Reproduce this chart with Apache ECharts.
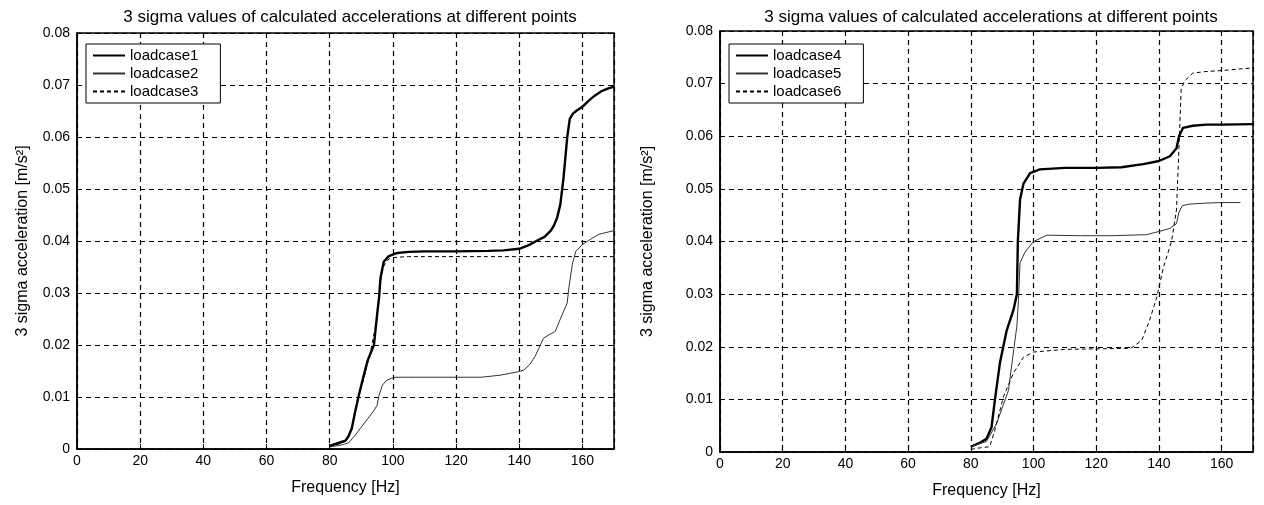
<!DOCTYPE html>
<html lang="en">
<head>
    <meta charset="UTF-8">
    <title>3 sigma</title>
    <script src="https://cdn.jsdelivr.net/npm/echarts@6/dist/echarts.min.js"></script>
</head>
<body style="margin:0;background:#fff;">
    <div id="main" style="width: 1264px;height:505px;"></div>
</body>
    <script type="text/javascript">
        // data (frequency in Hz, acceleration in m/s²)
        var titleText = '3 sigma values of calculated accelerations at different points';
        var xTicks = [0, 20, 40, 60, 80, 100, 120, 140, 160];
        var yTicks = ['0', '0.01', '0.02', '0.03', '0.04', '0.05', '0.06', '0.07', '0.08'];

        var freq1 = [80, 83, 85, 86, 87, 88, 89.2, 90.8, 92, 94, 95, 95.6, 96.1, 97.1, 98.7, 101.4, 105, 110, 120, 130, 135, 140, 143, 146, 148, 150, 151, 152, 153, 154, 154.6, 155.2, 156, 157, 158, 160, 162, 164, 166, 168, 170];
        var load1 = [0.0006, 0.0012, 0.0016, 0.0025, 0.004, 0.007, 0.0103, 0.0142, 0.017, 0.02, 0.0258, 0.029, 0.033, 0.036, 0.0371, 0.0377, 0.0379, 0.038, 0.038, 0.0381, 0.0382, 0.0385, 0.0392, 0.0402, 0.0408, 0.042, 0.043, 0.0445, 0.047, 0.052, 0.056, 0.06, 0.0635, 0.0645, 0.065, 0.0658, 0.067, 0.068, 0.0688, 0.0693, 0.0697];

        var freq2 = [80, 83, 85, 86, 88, 90, 92, 94, 95, 95.6, 96.7, 98, 99.5, 101, 105, 115, 125, 128, 134, 140, 141.5, 143.4, 145, 147.7, 149.5, 151.4, 153, 155.2, 155.7, 156.8, 157.9, 160, 163, 165.3, 170];
        var load2 = [0.0004, 0.0007, 0.001, 0.0012, 0.0026, 0.0042, 0.0058, 0.0074, 0.0084, 0.0103, 0.0123, 0.0132, 0.0136, 0.0138, 0.0138, 0.0138, 0.0138, 0.0138, 0.0142, 0.0149, 0.0152, 0.0163, 0.0178, 0.0213, 0.022, 0.0226, 0.025, 0.0281, 0.031, 0.0355, 0.038, 0.0393, 0.0405, 0.0413, 0.042];

        var freq3 = [80, 83, 85, 87, 89, 91, 93, 95, 96, 97, 98, 99, 100, 102, 105, 110, 130, 150, 170];
        var load3 = [0.0005, 0.001, 0.0015, 0.0038, 0.0098, 0.014, 0.019, 0.025, 0.032, 0.035, 0.0362, 0.0366, 0.0368, 0.0369, 0.037, 0.037, 0.037, 0.037, 0.037];

        var freq4 = [80, 83, 85, 86.6, 87.7, 89.3, 91.4, 93.6, 94.7, 95, 95.7, 96.8, 98.9, 102, 110, 120, 128, 135, 140, 143.5, 145.6, 146.4, 147.7, 150.8, 155, 160, 170];
        var load4 = [0.001, 0.0018, 0.0025, 0.0047, 0.01, 0.017, 0.023, 0.027, 0.03, 0.04, 0.048, 0.051, 0.053, 0.0537, 0.054, 0.054, 0.0541, 0.0547, 0.0553, 0.0562, 0.0577, 0.06, 0.0616, 0.062, 0.0622, 0.0622, 0.0623];

        var freq5 = [80, 85, 88.2, 92, 93.6, 94.7, 95.2, 95.7, 97.3, 100, 104.3, 115, 125, 136, 140, 143.5, 145.6, 146.4, 147.5, 149.6, 155, 160, 166];
        var load5 = [0.001, 0.002, 0.0054, 0.0117, 0.019, 0.024, 0.029, 0.036, 0.038, 0.04, 0.0412, 0.0411, 0.0411, 0.0413, 0.0419, 0.0425, 0.0434, 0.0456, 0.0468, 0.0471, 0.0473, 0.0474, 0.0474];

        var freq6 = [80, 83, 86, 87.6, 90.4, 93.6, 96.8, 100, 110, 120, 131, 134.5, 137, 139.3, 141.4, 144, 145.6, 146.2, 147.1, 148.2, 150.8, 155, 160.4, 170];
        var load6 = [0.0005, 0.0008, 0.001, 0.004, 0.0105, 0.015, 0.018, 0.019, 0.0195, 0.0196, 0.0197, 0.0212, 0.025, 0.0294, 0.035, 0.04, 0.046, 0.055, 0.069, 0.0705, 0.072, 0.0723, 0.0725, 0.073];

        function pairs(xs, ys) {
            var out = [];
            for (var i = 0; i < xs.length; i++) out.push([xs[i], ys[i]]);
            return out;
        }

        var font = 'Liberation Sans, Arial, sans-serif';
        var dash = [5, 4];

        function xAxisOf(idx) {
            return {
                gridIndex: idx, type: 'value', min: 0, max: 170, interval: 20,
                name: 'Frequency [Hz]', nameLocation: 'middle', nameGap: 31,
                nameTextStyle: {color: '#000', fontSize: 16, fontFamily: font},
                axisLine: {show: true, lineStyle: {color: '#000', width: 1.5}},
                axisTick: {show: true, inside: true, length: 5, lineStyle: {color: '#000'}},
                axisLabel: {color: '#000', fontSize: 14, fontFamily: font, margin: 5,
                    formatter: function (v) { return xTicks.indexOf(v) >= 0 ? String(v) : ''; }},
                splitLine: {show: true, lineStyle: {color: '#000', type: dash, width: 1.2}}
            };
        }
        function yAxisOf(idx, gap) {
            return {
                gridIndex: idx, type: 'value', min: 0, max: 0.08, interval: 0.01,
                name: '3 sigma acceleration [m/s²]', nameLocation: 'middle', nameGap: gap,
                nameTextStyle: {color: '#000', fontSize: 16, fontFamily: font},
                axisLine: {show: true, lineStyle: {color: '#000', width: 1.5}},
                axisTick: {show: true, inside: true, length: 5, lineStyle: {color: '#000'}},
                axisLabel: {color: '#000', fontSize: 14, fontFamily: font, margin: 7,
                    formatter: function (v) { return yTicks[Math.round(v * 100)]; }},
                splitLine: {show: true, lineStyle: {color: '#000', type: dash, width: 1.2}}
            };
        }
        function lineOf(name, data, idx, width, type, color) {
            return {
                name: name, type: 'line', xAxisIndex: idx, yAxisIndex: idx,
                data: data, symbol: 'none', animation: false,
                lineStyle: {color: color, width: width, type: type},
                itemStyle: {color: color}
            };
        }
        function legendOf(names, left) {
            return {
                data: names, orient: 'vertical', left: left, top: 44,
                itemWidth: 32, itemHeight: 12, itemGap: 3, itemTextGap: 10,
                padding: [4, 22, 4, 6],
                itemStyle: {opacity: 0},
                borderColor: '#000', borderWidth: 1, backgroundColor: '#fff',
                textStyle: {color: '#000', fontSize: 15, fontFamily: font, lineHeight: 14}
            };
        }

        var myChart = echarts.init(document.getElementById('main'));
        var option = {
            backgroundColor: '#fff',
            title: [
                {text: titleText, left: 345, top: 4, textAlign: 'center',
                    textStyle: {color: '#000', fontSize: 17, fontWeight: 'normal', fontFamily: font}},
                {text: titleText, left: 986, top: 4, textAlign: 'center',
                    textStyle: {color: '#000', fontSize: 17, fontWeight: 'normal', fontFamily: font}}
            ],
            grid: [
                {left: 77, right: 650, top: 33, bottom: 56, show: true, borderColor: '#000', borderWidth: 1.5},
                {left: 720, right: 11, top: 31, bottom: 53, show: true, borderColor: '#000', borderWidth: 1.5}
            ],
            xAxis: [xAxisOf(0), xAxisOf(1)],
            yAxis: [yAxisOf(0, 46), yAxisOf(1, 64)],
            legend: [
                legendOf(['loadcase1', 'loadcase2', 'loadcase3'], 86),
                legendOf(['loadcase4', 'loadcase5', 'loadcase6'], 729)
            ],
            series: [
                lineOf('loadcase1', pairs(freq1, load1), 0, 2.4, 'solid', '#000'),
                lineOf('loadcase2', pairs(freq2, load2), 0, 1, 'solid', '#333'),
                lineOf('loadcase3', pairs(freq3, load3), 0, 1, [4, 3], '#000'),
                lineOf('loadcase4', pairs(freq4, load4), 1, 2.4, 'solid', '#000'),
                lineOf('loadcase5', pairs(freq5, load5), 1, 1, 'solid', '#333'),
                lineOf('loadcase6', pairs(freq6, load6), 1, 1, [4, 3], '#000')
            ]
        };
        myChart.setOption(option);
    </script>
</html>
